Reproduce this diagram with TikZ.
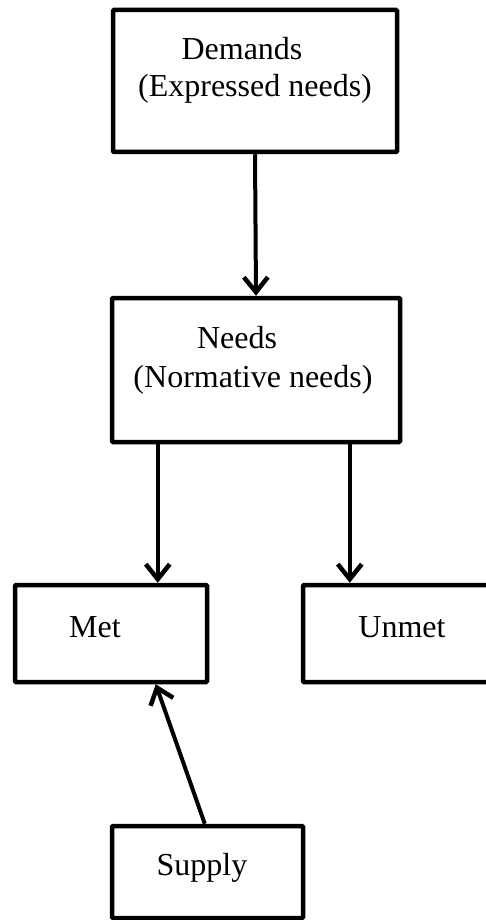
\documentclass[tikz,border=0pt]{standalone}
\usepackage{fontspec}
\setmainfont{Liberation Serif}
\usetikzlibrary{arrows.meta,calc}
\begin{document}
\begin{tikzpicture}[x=1pt,y=-1pt,
  box/.style={draw=black,line width=4.5pt,rounded corners=1pt,minimum width=#1,inner sep=0pt,fill=white},
  lbl/.style={anchor=base,inner sep=0pt,font=\fontsize{32}{38}\selectfont},
  conn/.style={line width=4pt,-{Straight Barb[length=15pt,width=24pt,line width=4.5pt]}}]
\useasboundingbox (0,0) rectangle (486,920);
\clip (0,0) rectangle (486,920);
\node[box=284pt,minimum height=142pt] (demands) at (255,81) {};
\node[box=288pt,minimum height=144pt] (needs) at (256,370) {};
\node[box=192pt,minimum height=97pt] (met) at (111,633.5) {};
\node[box=192pt,minimum height=97pt] (unmet) at (399,633.5) {};
\node[box=191pt,minimum height=92pt] (supply) at (207.5,872) {};
\node[lbl] (t1) at (242,60) {Demands};
\node[lbl] (t2) at (255,97) {(Expressed needs)};
\node[lbl] (t3) at (237,348) {Needs};
\node[lbl] (t4) at (253,387) {(Normative needs)};
\node[lbl] (t5) at (95,637) {Met};
\node[lbl] (t6) at (402,637) {Unmet};
\node[lbl] (t7) at (202,875) {Supply};
\draw[conn] (demands.south) -- (needs.north);
\draw[conn] ($(needs.south west)+(48,0)$) -- ($(met.north west)+(145,0)$);
\draw[conn] ($(needs.south west)+(240,0)$) -- ($(unmet.north west)+(49,0)$);
\draw[conn] ($(supply.north west)+(95,0)$) -- ($(met.south west)+(143,0)$);
\end{tikzpicture}
\end{document}
